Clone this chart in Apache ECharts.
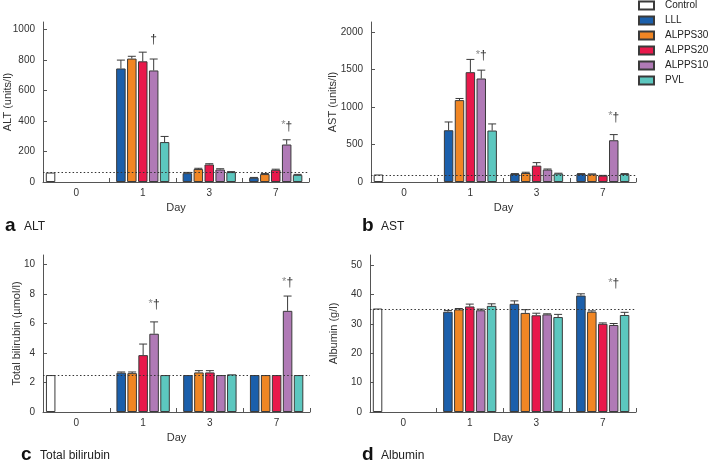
<!DOCTYPE html>
<html><head><meta charset="utf-8">
<script src="https://cdn.jsdelivr.net/npm/echarts@6/dist/echarts.min.js"></script>
<style>html,body{margin:0;padding:0;background:#fff}#c{width:709px;height:464px}</style>
</head><body><div id="c"></div>
<script>
// ---------- data ----------
const days = ['0', '1', '3', '7'];
const groups = ['LLL', 'ALPPS30', 'ALPPS20', 'ALPPS10', 'PVL'];
const groupColors = ['#1b5fab', '#f08624', '#e8194b', '#b07ab6', '#5cc7bf'];

// ALT (units/l)
const altControl = [62, null, null, null];
const altRef = 65;
const altLLL = [null, 745, 58, 28];
const altA30 = [null, 810, 85, 52];
const altA20 = [null, 792, 115, 80];
const altA10 = [null, 732, 82, 246];
const altPVL = [null, 262, 65, 47];
const altErrLLL = [null, 55, 5, 2];
const altErrA30 = [null, 15, 5, 4];
const altErrA20 = [null, 60, 5, 4];
const altErrA10 = [null, 75, 5, 31];
const altErrPVL = [null, 37, 3, 3];
const altNotes = ['', '†', '', '*†'];
const altNoteAt = [null, 934, null, 365];
const altTicks = [0, 200, 400, 600, 800, 1000];

// AST (units/l)
const astControl = [100, null, null, null];
const astRef = 93;
const astLLL = [null, 689, 107, 107];
const astA30 = [null, 1090, 120, 103];
const astA20 = [null, 1462, 218, 85];
const astA10 = [null, 1378, 165, 556];
const astPVL = [null, 685, 112, 107];
const astErrLLL = [null, 110, 5, 5];
const astErrA30 = [null, 22, 10, 5];
const astErrA20 = [null, 170, 40, 3];
const astErrA10 = [null, 111, 8, 75];
const astErrPVL = [null, 88, 5, 5];
const astNotes = ['', '*†', '', '*†'];
const astNoteAt = [null, 1676, null, 862];
const astTicks = [0, 500, 1000, 1500, 2000];

// Total bilirubin (µmol/l)
const bilControl = [2.5, null, null, null];
const bilRef = 2.5;
const bilLLL = [null, 2.66, 2.5, 2.5];
const bilA30 = [null, 2.63, 2.68, 2.5];
const bilA20 = [null, 3.85, 2.68, 2.5];
const bilA10 = [null, 5.3, 2.5, 6.85];
const bilPVL = [null, 2.5, 2.55, 2.5];
const bilErrLLL = [null, 0.05, 0, 0];
const bilErrA30 = [null, 0.08, 0.12, 0];
const bilErrA20 = [null, 0.75, 0.12, 0];
const bilErrA10 = [null, 0.8, 0, 1.0];
const bilErrPVL = [null, 0, 0, 0];
const bilNotes = ['', '*†', '', '*†'];
const bilNoteAt = [null, 7.24, null, 8.73];
const bilTicks = [0, 2, 4, 6, 8, 10];

// Albumin (g/l)
const albControl = [35.2, null, null, null];
const albRef = 34.8;
const albLLL = [null, 34.1, 36.8, 39.6];
const albA30 = [null, 34.9, 33.7, 34.1];
const albA20 = [null, 35.9, 32.9, 30.0];
const albA10 = [null, 34.6, 33.2, 29.6];
const albPVL = [null, 36.1, 32.3, 33.0];
const albErrLLL = [null, 0.4, 1.0, 0.6];
const albErrA30 = [null, 0.3, 1.1, 0.3];
const albErrA20 = [null, 0.8, 0.7, 0.3];
const albErrA10 = [null, 0.4, 0.2, 0.5];
const albErrPVL = [null, 0.7, 0.9, 0.9];
const albNotes = ['', '', '', '*†'];
const albNoteAt = [null, null, null, 43.5];
const albTicks = [0, 10, 20, 30, 40, 50];

// ---------- layout / style ----------
const CAT_GAP = 0.20, BAR_GAP = 0.15;
const SANS = '"Liberation Sans", Arial, Helvetica, sans-serif';
const AXIS_COLOR = '#555';
const EDGE = '#3a3a3a';

const panels = [
  { letter: 'a', title: 'ALT', yName: 'ALT (units/l)', nameGap: 30, max: 1050, ticks: altTicks,
    control: altControl, ref: altRef, values: [altLLL, altA30, altA20, altA10, altPVL],
    errs: [altErrLLL, altErrA30, altErrA20, altErrA10, altErrPVL], notes: altNotes, noteAt: altNoteAt,
    grid: { left: 43, top: 22, width: 266, height: 160 }, lx: 5, ly: 227 },
  { letter: 'b', title: 'AST', yName: 'AST (units/l)', nameGap: 33, max: 2130, ticks: astTicks,
    control: astControl, ref: astRef, values: [astLLL, astA30, astA20, astA10, astPVL],
    errs: [astErrLLL, astErrA30, astErrA20, astErrA10, astErrPVL], notes: astNotes, noteAt: astNoteAt,
    grid: { left: 371, top: 22, width: 265, height: 160 }, lx: 362, ly: 227 },
  { letter: 'c', title: 'Total bilirubin', yName: 'Total bilirubin (µmol/l)', nameGap: 21, max: 10.63, ticks: bilTicks,
    control: bilControl, ref: bilRef, values: [bilLLL, bilA30, bilA20, bilA10, bilPVL],
    errs: [bilErrLLL, bilErrA30, bilErrA20, bilErrA10, bilErrPVL], notes: bilNotes, noteAt: bilNoteAt,
    grid: { left: 43, top: 255, width: 267, height: 157 }, lx: 21, ly: 456 },
  { letter: 'd', title: 'Albumin', yName: 'Albumin (g/l)', nameGap: 31, max: 53.4, ticks: albTicks,
    control: albControl, ref: albRef, values: [albLLL, albA30, albA20, albA10, albPVL],
    errs: [albErrLLL, albErrA30, albErrA20, albErrA10, albErrPVL], notes: albNotes, noteAt: albNoteAt,
    grid: { left: 370, top: 255, width: 266, height: 157 }, lx: 362, ly: 456 }
];

function slotOffset(api, i) {
  const cw = api.size([1, 0])[0];
  const band = cw * (1 - CAT_GAP);
  const n = groups.length;
  const bw = band / (n + (n - 1) * BAR_GAP);
  return -band / 2 + bw / 2 + i * bw * (1 + BAR_GAP);
}

const grids = [], xAxes = [], yAxes = [], series = [], graphics = [];

panels.forEach((p, k) => {
  grids.push(Object.assign({ outerBoundsMode: 'none', containLabel: false }, p.grid));
  const axisLine = { show: true, lineStyle: { color: AXIS_COLOR, width: 1 } };
  xAxes.push({
    type: 'category', gridIndex: k, data: days, boundaryGap: true,
    axisLine, axisTick: { show: true, inside: true, length: 4, lineStyle: { color: AXIS_COLOR } },
    axisLabel: { margin: 6, fontFamily: SANS, fontSize: 10, color: '#333' },
    name: 'Day', nameLocation: 'middle', nameGap: 20, nameMoveOverlap: false,
    nameTextStyle: { fontFamily: SANS, fontSize: 11, color: '#333' },
    splitLine: { show: false }
  });
  xAxes.push({ type: 'category', gridIndex: k, data: days, show: false, boundaryGap: true });
  yAxes.push({
    type: 'value', gridIndex: k, min: 0, max: p.max,
    axisLine, splitLine: { show: false },
    axisTick: { show: true, inside: true, length: 4, customValues: p.ticks, lineStyle: { color: AXIS_COLOR } },
    axisLabel: { margin: 8, fontFamily: SANS, fontSize: 10, color: '#333', customValues: p.ticks,
      formatter: v => (p.ticks.indexOf(v) >= 0 ? String(v) : '') },
    name: p.yName, nameLocation: 'middle', nameGap: p.nameGap, nameMoveOverlap: false,
    nameTextStyle: { fontFamily: SANS, fontSize: 11, color: '#333' }
  });
  const xMain = 2 * k, xCtl = 2 * k + 1;

  // Control bar (first slot on the auxiliary axis, so it sits at the left of day 0)
  series.push({
    type: 'bar', name: 'Control', xAxisIndex: xCtl, yAxisIndex: k, data: p.control,
    barWidth: 9.5, barGap: '441%', z: 2,
    itemStyle: { color: '#ffffff', borderColor: EDGE, borderWidth: 1 }
  });
  // empty spacer series carrying the dotted reference line (drawn behind the bars)
  series.push({
    type: 'bar', name: '', xAxisIndex: xCtl, yAxisIndex: k, data: days.map(() => null),
    barWidth: 9.5, barGap: '441%', z: 1, silent: true,
    markLine: {
      silent: true, symbol: 'none', label: { show: false }, animation: false,
      lineStyle: { color: '#333', width: 1.2, type: [1.5, 2.2] },
      data: [{ yAxis: p.ref }]
    }
  });

  groups.forEach((g, i) => {
    series.push({
      type: 'bar', name: g, xAxisIndex: xMain, yAxisIndex: k, data: p.values[i],
      barCategoryGap: (CAT_GAP * 100) + '%', barGap: (BAR_GAP * 100) + '%', z: 2,
      itemStyle: { color: groupColors[i], borderColor: EDGE, borderWidth: 1 }
    });
  });

  // error bars
  const errData = [];
  groups.forEach((g, i) => {
    p.values[i].forEach((v, c) => {
      if (v != null && p.errs[i][c]) errData.push([c, i, v, p.errs[i][c]]);
    });
  });
  series.push({
    type: 'custom', xAxisIndex: xMain, yAxisIndex: k, z: 3, silent: true,
    encode: { x: 0, y: 2 }, data: errData,
    renderItem: (params, api) => {
      const c = api.value(0), i = api.value(1), m = api.value(2), e = api.value(3);
      const p0 = api.coord([c, m]);
      const p1 = api.coord([c, m + e]);
      const x = p0[0] + slotOffset(api, i);
      const st = { stroke: '#3a3a3a', lineWidth: 1 };
      return { type: 'group', children: [
        { type: 'line', shape: { x1: x, y1: p0[1], x2: x, y2: p1[1] }, style: st },
        { type: 'line', shape: { x1: x - 4, y1: p1[1], x2: x + 4, y2: p1[1] }, style: st }
      ] };
    }
  });

  // significance marks (above ALPPS10)
  const noteData = [], noteText = [];
  p.notes.forEach((t, c) => { if (t) { noteData.push([c, 3, p.noteAt[c]]); noteText.push(t); } });
  series.push({
    type: 'custom', xAxisIndex: xMain, yAxisIndex: k, z: 4, silent: true,
    encode: { x: 0, y: 2 }, data: noteData,
    renderItem: (params, api) => {
      const c = api.value(0), i = api.value(1), at = api.value(2);
      const pt = api.coord([c, at]);
      const x = pt[0] + slotOffset(api, i);
      const t = noteText[params.dataIndex];
      const rich = t.replace('*', '{s|*}').replace('†', '{d|†}');
      return { type: 'text', style: {
        text: rich, x: x, y: pt[1], align: 'center', verticalAlign: 'middle',
        rich: {
          s: { fontFamily: SANS, fontSize: 11, fill: '#8a8a8a', padding: [0, 0, 2, 0] },
          d: { fontFamily: SANS, fontSize: 12, fill: '#333' }
        }
      } };
    }
  });

  graphics.push({ type: 'text', left: p.lx, top: p.ly - 11, style: { text: p.letter, font: 'bold 19px ' + SANS, fill: '#111' } });
  graphics.push({ type: 'text', left: p.lx + 19, top: p.ly - 6, style: { text: p.title, font: '12px ' + SANS, fill: '#222' } });
});

const chart = echarts.init(document.getElementById('c'), null, { renderer: 'canvas' });
chart.setOption({
  animation: false,
  backgroundColor: '#ffffff',
  grid: grids, xAxis: xAxes, yAxis: yAxes, series: series, graphic: graphics,
  legend: {
    data: ['Control'].concat(groups), orient: 'vertical', left: 638, top: -1, padding: 0,
    icon: 'rect', itemWidth: 15, itemHeight: 8, itemGap: 2,
    textStyle: { fontFamily: SANS, fontSize: 10, color: '#222', lineHeight: 13, padding: [0, 0, 0, 6] },
    selectedMode: false
  }
});
</script></body></html>
